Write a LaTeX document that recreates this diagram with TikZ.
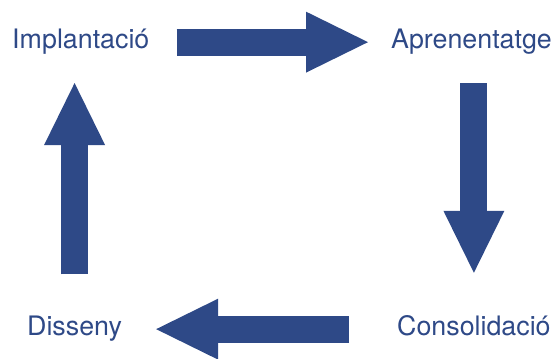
\documentclass[tikz,border=0pt]{standalone}
\usepackage{fontspec}
\setmainfont{TeX Gyre Heros}
\usetikzlibrary{arrows.meta,calc}
\definecolor{stageblue}{RGB}{46,73,135}
\tikzstyle{stage} = [inner sep=0pt, anchor=base west, text=stageblue, font=\fontsize{26.8}{30}\selectfont]
\tikzstyle{flow} = [draw=stageblue, line width=27pt, line cap=butt, -{Triangle[length=62pt,width=61pt,line width=0pt]}]

\begin{document}
\begin{tikzpicture}[x=1pt, y=1pt]
		\useasboundingbox (0,0) rectangle (552,359);
		% Stages
		\node[stage] (impl) at (12,310) {Implantació};
		\node[stage] (apren) at (391,310) {Aprenentatge};
		\node[stage] (cons) at (397,23) {Consolidació};
		\node[stage] (dis) at (27,23) {Disseny};
		
		% Block arrows
		\draw[flow, shorten <=27pt, shorten >=23pt] (impl.east) -- (impl.east -| apren.west);
		\draw[flow, shorten <=28pt, shorten >=43pt] (cons.north |- apren.south) -- (cons.north);
		\draw[flow, shorten <=48pt, shorten >=34pt] (dis.east -| cons.west) -- (dis.east);
		\draw[flow, shorten <=42pt, shorten >=28pt] (dis.north) -- (dis.north |- impl.south);
		
\end{tikzpicture}
\end{document}
